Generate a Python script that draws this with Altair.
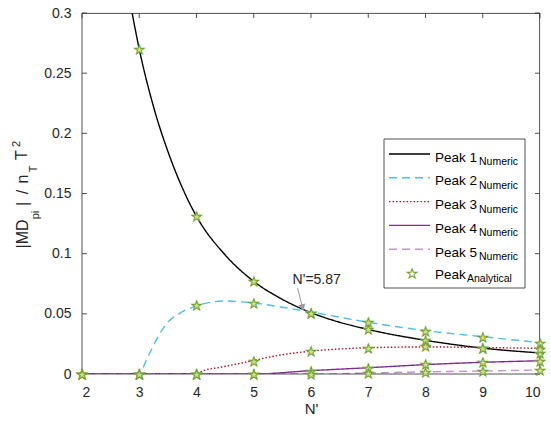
import altair as alt
import pandas as pd

FONT = "Liberation Sans"
AX = "#262626"

# ---------------- data ----------------
names = ["Peak 1", "Peak 2", "Peak 3", "Peak 4", "Peak 5"]

p1_n = [2.875, 3, 3.25, 3.5, 3.75, 4, 4.5, 5, 5.5, 6, 6.5, 7, 8, 9, 10]
p1_v = [0.300, 0.270, 0.222, 0.185, 0.155, 0.131, 0.099, 0.077, 0.062, 0.051, 0.043, 0.037, 0.028, 0.0215, 0.0175]

p2_n = [2, 3, 3.11, 3.22, 3.34, 3.48, 3.69, 4, 4.24, 4.53, 4.77, 5, 5.5, 6, 7, 8, 9, 10]
p2_v = [0, 0, 0.010, 0.021, 0.032, 0.042, 0.050, 0.0565, 0.0596, 0.0607, 0.060, 0.059, 0.0555, 0.0515, 0.043, 0.036, 0.031, 0.026]

p3_n = [2, 4, 4.12, 4.42, 4.77, 5, 5.5, 6, 6.5, 7, 8, 9, 10]
p3_v = [0, 0, 0.0027, 0.0056, 0.0089, 0.0113, 0.016, 0.019, 0.0208, 0.0218, 0.0225, 0.022, 0.0213]

p4_n = [2, 5, 6, 7, 8, 9, 10]
p4_v = [0, 0, 0.0028, 0.0052, 0.0078, 0.0097, 0.011]

p5_n = [2, 6, 7, 8, 9, 10]
p5_v = [0, 0, 0.0008, 0.0018, 0.0025, 0.0033]

an_n = [2, 3, 4, 5, 6, 7, 8, 9, 10]
a1 = [None, 0.270, 0.131, 0.077, 0.051, 0.037, 0.028, 0.0215, 0.0175]
a2 = [0, 0, 0.057, 0.059, 0.051, 0.043, 0.036, 0.031, 0.026]
a3 = [0, 0, 0, 0.011, 0.019, 0.022, 0.023, 0.022, 0.021]
a4 = [0, 0, 0, 0, 0.0025, 0.005, 0.008, 0.010, 0.011]
a5 = [0, 0, 0, 0, 0, 0.0005, 0.002, 0.0025, 0.0033]

x_ticks = [2, 3, 4, 5, 6, 7, 8, 9, 10]
y_ticks = [0, 0.05, 0.1, 0.15, 0.2, 0.25, 0.3]

annot_label = "N'=5.87"
annot_text_xy = (6.10, 0.0745)
arrow_tail = (5.765, 0.0715)
arrow_tip = (5.87, 0.052)

# ---------------- styles ----------------
colors = ["#000000", "#4DBEEE", "#A2142F", "#7E2F8E", "#C88FD6"]
dashes = [[1, 0], [8, 5], [1.5, 2], [1, 0], [8, 5]]
STAR_STROKE = "#6E9F2A"
STAR_FILL = "#cfe38a"
GRAY = "#9a9a9a"

W, H = 458, 361
XMIN, XMAX, YMIN, YMAX = 2, 10, 0, 0.3
TICK_PX = 5
tx_len = TICK_PX * (XMAX - XMIN) / W
ty_len = TICK_PX * (YMAX - YMIN) / H
EPSX = 0.4 * (XMAX - XMIN) / W
EPSY = 0.4 * (YMAX - YMIN) / H

rows = []
for nm, ns, vs in zip(names, [p1_n, p2_n, p3_n, p4_n, p5_n], [p1_v, p2_v, p3_v, p4_v, p5_v]):
    for n, v in zip(ns, vs):
        rows.append({"series": nm, "N": n, "v": v})
lines_df = pd.DataFrame(rows)

arows = []
for nm, vs in zip(names, [a1, a2, a3, a4, a5]):
    for n, v in zip(an_n, vs):
        if v is not None:
            arows.append({"series": nm, "N": n, "v": v})
an_df = pd.DataFrame(arows)

xscale = alt.Scale(domain=[XMIN, XMAX], nice=False, zero=False)
yscale = alt.Scale(domain=[YMIN, YMAX], nice=False, zero=False)

xaxis = alt.Axis(values=x_ticks, format="d", ticks=False, domain=False, grid=False,
                 labelFontSize=14, labelPadding=11, labelColor=AX, labelFont=FONT,
                 title="N'", titleFontSize=15, titleFontWeight="normal", titleColor=AX,
                 titleFont=FONT, titlePadding=2)
yaxis = alt.Axis(values=y_ticks, format="~g", ticks=False, domain=False, grid=False,
                 labelFontSize=14, labelPadding=11, labelColor=AX, labelFont=FONT, title=None)


def X(f="N"):
    return alt.X(f"{f}:Q", scale=xscale, axis=xaxis)


def Y(f="v"):
    return alt.Y(f"{f}:Q", scale=yscale, axis=yaxis)


lines = alt.Chart(lines_df).mark_line(clip=True, strokeWidth=1.4, interpolate="monotone").encode(
    x=X(), y=Y(),
    color=alt.Color("series:N", scale=alt.Scale(domain=names, range=colors), legend=None),
    strokeDash=alt.StrokeDash("series:N", scale=alt.Scale(domain=names, range=dashes), legend=None),
)

# analytical stars (drawn as star glyphs)
stars = alt.Chart(an_df).mark_text(text="★", font="DejaVu Sans", fontSize=13, fill=STAR_FILL,
                                   stroke=STAR_STROKE, strokeWidth=0.9, align="center",
                                   baseline="middle", dy=1).encode(x=X(), y=Y())

# ---------------- frame and inward ticks ----------------
hrows = [{"N": XMIN, "N2": XMAX, "v": YMIN}]
vrows = [{"N": XMIN, "v": YMIN, "v2": YMAX}]
for t in x_ticks:
    vrows.append({"N": t, "v": YMIN, "v2": YMIN + ty_len})
    vrows.append({"N": t, "v": YMAX - ty_len, "v2": YMAX - EPSY})
for t in y_ticks:
    hrows.append({"N": XMIN, "N2": XMIN + tx_len, "v": t})
    hrows.append({"N": XMAX - tx_len, "N2": XMAX - EPSX, "v": t})
h_df = pd.DataFrame(hrows)
v_df = pd.DataFrame(vrows)
h_rules = alt.Chart(h_df).mark_rule(color=AX, strokeWidth=0.8).encode(x=X(), x2="N2", y=Y())
v_rules = alt.Chart(v_df).mark_rule(color=AX, strokeWidth=0.8).encode(x=X(), y=Y(), y2="v2")

one = pd.DataFrame({"a": [0]})
frame_top = alt.Chart(one).mark_rule(color=AX, strokeWidth=0.8).encode(
    x=alt.value(0), x2=alt.value(W), y=alt.value(0.4))
frame_right = alt.Chart(one).mark_rule(color=AX, strokeWidth=0.8).encode(
    x=alt.value(W - 0.4), y=alt.value(0), y2=alt.value(H))

# ---------------- annotation ----------------
ann_df = pd.DataFrame({"N": [annot_text_xy[0]], "v": [annot_text_xy[1]], "txt": [annot_label]})
ann_text = alt.Chart(ann_df).mark_text(font=FONT, fontSize=14, color=AX, align="center",
                                       baseline="alphabetic").encode(x=X(), y=Y(), text="txt:N")

head_x = arrow_tip[0] - 0.02
head_y = arrow_tip[1] + 0.0036
shaft_df = pd.DataFrame({"N": [arrow_tail[0]], "v": [arrow_tail[1]], "N2": [head_x], "v2": [head_y]})
arrow_shaft = alt.Chart(shaft_df).mark_rule(color=GRAY, strokeWidth=1).encode(
    x=X(), y=Y(), x2="N2", y2="v2")
head_df = pd.DataFrame({"N": [head_x], "v": [head_y]})
arrow_head = alt.Chart(head_df).mark_text(text="▼", font="DejaVu Sans", fontSize=9, color=GRAY,
                                          align="center", baseline="middle", angle=346).encode(
    x=X(), y=Y())

# ---------------- legend (drawn by hand for subscripts) ----------------
legend_layers = [
    alt.Chart(one).mark_rect(fill="white", stroke=AX, strokeWidth=0.8).encode(
        x=alt.value(302), x2=alt.value(443), y=alt.value(126), y2=alt.value(275))
]
for i, nm in enumerate(names):
    ly = 141 + 23.8 * i
    legend_layers.append(
        alt.Chart(one).mark_rule(color=colors[i], strokeDash=dashes[i], strokeWidth=1.4).encode(
            x=alt.value(307), x2=alt.value(348), y=alt.value(ly)))
    legend_layers.append(
        alt.Chart(one).mark_text(font=FONT, fontSize=13.5, color="black", align="left",
                                 baseline="alphabetic", text=nm).encode(
            x=alt.value(353), y=alt.value(ly + 7.5)))
    legend_layers.append(
        alt.Chart(one).mark_text(font=FONT, fontSize=10.5, color="black", align="left",
                                 baseline="alphabetic", text="Numeric").encode(
            x=alt.value(397), y=alt.value(ly + 11)))
legend_layers.append(
    alt.Chart(one).mark_text(text="★", font="DejaVu Sans", fontSize=13, fill="white",
                             stroke=STAR_STROKE, strokeWidth=0.9, align="center",
                             baseline="middle", dy=1).encode(
        x=alt.value(330), y=alt.value(260)))
legend_layers.append(
    alt.Chart(one).mark_text(font=FONT, fontSize=13.5, color="black", align="left",
                             baseline="alphabetic", text="Peak").encode(
        x=alt.value(353), y=alt.value(265.5)))
legend_layers.append(
    alt.Chart(one).mark_text(font=FONT, fontSize=10.5, color="black", align="left",
                             baseline="alphabetic", text="Analytical").encode(
        x=alt.value(385), y=alt.value(269)))


# ---------------- y-axis title with sub/superscripts ----------------
def ypiece(txt, size, x, y):
    return alt.Chart(one).mark_text(font=FONT, fontSize=size, color=AX, align="center",
                                    baseline="alphabetic", angle=270, text=txt).encode(
        x=alt.value(x), y=alt.value(y))


title_layers = [
    ypiece("|MD", 16, -54, 221),
    ypiece("pi", 11, -43, 202),
    ypiece("|", 16, -54, 191),
    ypiece("/", 16, -54, 179),
    ypiece("n", 16, -54, 166),
    ypiece("T", 11, -45, 156),
    ypiece("T", 16, -55, 142),
    ypiece("2", 11, -62, 131),
]

chart = alt.layer(
    lines, h_rules, v_rules, frame_top, frame_right, stars, arrow_shaft, arrow_head, ann_text,
    *legend_layers, *title_layers
).properties(
    width=W, height=H,
    padding={"left": 82, "top": 13, "right": 11, "bottom": 47},
    autosize=alt.AutoSizeParams(type="none"),
    background="white",
).configure_view(stroke=None)

chart.save("out.html", embed_options={"renderer": "svg", "actions": False})
